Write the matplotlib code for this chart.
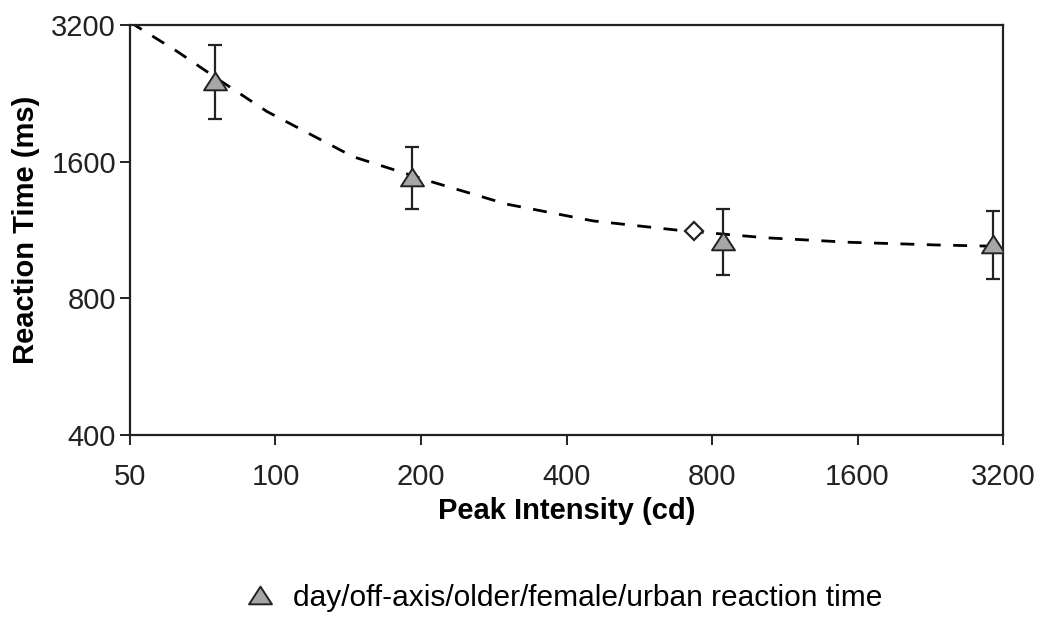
import numpy as np
import matplotlib
matplotlib.use("Agg")
import matplotlib.pyplot as plt
from matplotlib.path import Path

plt.rcParams['font.family'] = ['Liberation Sans', 'DejaVu Sans']

# measured points (cd, ms) with error bar ends
intensity = [75, 192, 843, 3050]
rt_mean = [2409, 1481, 1070, 1054]
rt_low = [1990, 1259, 901, 883]
rt_high = [2890, 1727, 1259, 1246]

# single open diamond on the fitted curve
diamond_x = [734]
diamond_y = [1126]

# dashed fitted curve
curve_x = [50, 51.9, 62.6, 77, 96, 144.7, 211.7, 300.9, 453.8, 676, 1030, 1544, 2315, 3200]
curve_y = [3250, 3168, 2799, 2410, 2064, 1641, 1442, 1290, 1185, 1131, 1088, 1063, 1049, 1041]

x_ticks = [50, 100, 200, 400, 800, 1600, 3200]
y_ticks = [400, 800, 1600, 3200]
legend_label = 'day/off-axis/older/female/urban reaction time'

# wide triangle marker
tri = Path([(-1.3, -1), (1.3, -1), (0, 1), (-1.3, -1)],
           [Path.MOVETO, Path.LINETO, Path.LINETO, Path.CLOSEPOLY])

fig = plt.figure(figsize=(10.49, 6.18), dpi=100)
ax = fig.add_axes([0.1239, 0.2961, 0.8323, 0.6634])

ax.plot(curve_x, curve_y, color='black', lw=2, linestyle=(0, (5, 4.5)), zorder=2)

yerr = [np.array(rt_mean) - np.array(rt_low), np.array(rt_high) - np.array(rt_mean)]
ax.errorbar(intensity, rt_mean, yerr=yerr, fmt='none', ecolor='#222222',
            elinewidth=1.6, capsize=5, capthick=1.6, zorder=3)
pts, = ax.plot(intensity, rt_mean, linestyle='none', marker=tri, markersize=16.5,
               markerfacecolor='#a6a6a6', markeredgecolor='#222222', markeredgewidth=1.4,
               zorder=4, label=legend_label)
ax.plot(diamond_x, diamond_y, linestyle='none', marker='D', markersize=9,
        markerfacecolor='white', markeredgecolor='#222222', markeredgewidth=1.6, zorder=4)

ax.set_xscale('log', base=2)
ax.set_yscale('log', base=2)
ax.set_xlim(50, 3200)
ax.set_ylim(400, 3200)
ax.set_xticks(x_ticks)
ax.set_xticklabels([str(v) for v in x_ticks])
ax.set_yticks(y_ticks)
ax.set_yticklabels([str(v) for v in y_ticks])
ax.minorticks_off()
ax.tick_params(axis='both', direction='out', length=7, width=1.4, labelsize=21,
               colors='#222222')
ax.tick_params(axis='x', pad=13.5)
ax.tick_params(axis='y', pad=3)
for s in ax.spines.values():
    s.set_linewidth(1.6)
    s.set_color('#222222')

ax.set_xlabel('Peak Intensity (cd)', fontsize=21, fontweight='bold', labelpad=4)
ax.set_ylabel('Reaction Time (ms)', fontsize=21, fontweight='bold', labelpad=8)

fig.legend(handles=[pts], loc='center', bbox_to_anchor=(0.536, 0.033),
           frameon=False, fontsize=21.5, handlelength=1.2, handletextpad=0.5)

fig.savefig('out.png', dpi=100)
